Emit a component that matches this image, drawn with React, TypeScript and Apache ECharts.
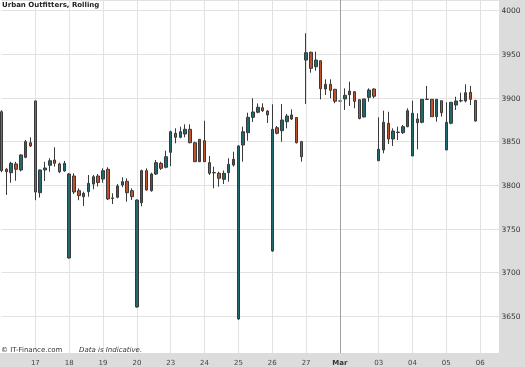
import React, { useEffect, useRef } from 'react';
import * as echarts from 'echarts';

const dayLabels = ['13', '17', '18', '19', '20', '23', '24', '25', '26', '27', 'Mar', '03', '04', '05', '06'];
const barsPerDay = [7, 7, 7, 7, 7, 7, 7, 7, 7, 7, 8, 7, 7, 7, 5];

const opens = [
  3884.3, 3818.4, 3814.5, 3824.5, 3817.6, 3832.1, 3848.8,
  3896.6, 3791.6, 3817.6, 3823.0, 3829.0, 3824.5, 3816.5,
  3716.8, 3810.7, 3793.9, 3787.0, 3792.7, 3801.5, 3810.7,
  3807.3, 3818.4, 3785.0, 3786.3, 3800.4, 3804.6, 3793.9,
  3660.7, 3780.1, 3816.8, 3793.9, 3813.0, 3825.2, 3820.7,
  3837.8, 3859.6, 3855.0, 3858.8, 3864.2, 3848.8, 3827.1,
  3851.1, 3826.0, 3814.3, 3813.8, 3806.9, 3814.5, 3823.3,
  3647.0, 3846.2, 3860.3, 3877.9, 3883.7, 3888.9, 3885.1,
  3724.8, 3866.0, 3862.6, 3872.9, 3876.0, 3877.7, 3850.0,
  3943.5, 3952.4, 3935.9, 3942.7, 3910.3, 3915.7, 3910.0,
  3896.6, 3898.9, 3903.8, 3907.2, 3898.1, 3878.3, 3900.8, 3910.3,
  3828.2, 3840.5, 3871.1, 3853.1, 3860.5, 3860.3, 3867.2,
  3833.6, 3876.0, 3872.2, 3898.3, 3898.5, 3878.6, 3896.9,
  3840.5, 3871.1, 3892.0, 3896.7, 3896.6, 3906.5, 3897.2,
];
const closes = [
  3816.8, 3815.6, 3825.2, 3818.4, 3834.8, 3850.0, 3845.1,
  3792.4, 3817.6, 3819.9, 3828.2, 3825.2, 3815.6, 3825.2,
  3813.0, 3792.4, 3788.2, 3790.9, 3802.3, 3809.9, 3803.3,
  3816.8, 3784.4, 3785.6, 3799.3, 3804.2, 3791.6, 3787.0,
  3783.2, 3816.8, 3794.7, 3813.0, 3826.0, 3819.5, 3832.8,
  3861.4, 3855.0, 3861.4, 3864.2, 3848.8, 3827.1, 3852.7,
  3827.1, 3813.8, 3814.7, 3808.1, 3813.8, 3824.1, 3829.8,
  3845.1, 3861.4, 3877.9, 3884.0, 3889.4, 3885.5, 3880.6,
  3864.2, 3859.6, 3874.8, 3879.4, 3880.6, 3848.8, 3832.8,
  3951.9, 3934.0, 3943.5, 3910.7, 3915.7, 3908.8, 3896.3,
  3896.6, 3903.1, 3908.0, 3896.3, 3876.6, 3898.9, 3909.2, 3902.0,
  3841.3, 3872.2, 3853.1, 3862.2, 3861.0, 3867.2, 3885.5,
  3882.5, 3871.8, 3898.5, 3898.7, 3878.6, 3898.5, 3883.2,
  3872.2, 3895.1, 3896.6, 3897.1, 3906.1, 3898.5, 3873.7,
];
const lows = [
  3815.0, 3789.0, 3803.0, 3805.3, 3816.0, 3831.0, 3844.0,
  3783.0, 3786.0, 3805.0, 3815.6, 3821.4, 3814.0, 3815.6,
  3716.0, 3790.0, 3783.0, 3776.4, 3787.0, 3795.5, 3798.7,
  3803.0, 3783.2, 3778.6, 3785.2, 3797.8, 3781.3, 3783.2,
  3660.0, 3776.0, 3794.0, 3792.7, 3811.8, 3817.6, 3819.5,
  3822.2, 3848.2, 3853.9, 3855.0, 3848.2, 3826.7, 3826.7,
  3826.7, 3811.9, 3796.6, 3798.5, 3801.5, 3804.2, 3821.4,
  3646.0, 3827.1, 3851.1, 3872.6, 3882.5, 3884.0, 3871.4,
  3724.0, 3858.5, 3850.0, 3865.3, 3874.8, 3848.0, 3827.1,
  3893.2, 3929.0, 3931.3, 3898.5, 3903.5, 3899.7, 3894.0,
  3896.4, 3886.3, 3890.9, 3888.2, 3875.6, 3878.0, 3895.8, 3899.7,
  3828.0, 3836.7, 3847.4, 3845.1, 3851.9, 3858.8, 3866.5,
  3833.6, 3841.3, 3871.0, 3897.7, 3878.6, 3872.9, 3878.6,
  3840.5, 3870.0, 3886.3, 3895.1, 3895.1, 3892.0, 3873.0,
];
const highs = [
  3886.0, 3820.0, 3827.1, 3827.0, 3835.5, 3852.0, 3855.0,
  3897.0, 3818.0, 3827.0, 3831.0, 3843.6, 3826.0, 3828.0,
  3814.0, 3813.8, 3796.6, 3792.7, 3811.8, 3812.0, 3813.0,
  3819.5, 3820.7, 3790.9, 3801.5, 3809.2, 3808.0, 3796.6,
  3784.0, 3818.0, 3819.5, 3814.5, 3829.0, 3827.0, 3839.7,
  3862.6, 3865.3, 3867.2, 3869.9, 3869.9, 3850.0, 3853.0,
  3874.0, 3833.6, 3821.4, 3815.6, 3817.0, 3831.0, 3838.5,
  3846.0, 3867.2, 3883.2, 3899.7, 3893.7, 3894.0, 3886.3,
  3892.8, 3868.0, 3893.2, 3881.7, 3887.0, 3878.0, 3851.0,
  3974.1, 3953.0, 3953.1, 3943.0, 3921.4, 3921.4, 3910.0,
  3896.8, 3911.1, 3918.7, 3908.0, 3898.5, 3899.0, 3911.1, 3911.1,
  3877.9, 3885.5, 3884.3, 3865.3, 3867.2, 3869.1, 3888.2,
  3896.9, 3882.5, 3898.5, 3913.8, 3898.5, 3898.5, 3896.9,
  3895.1, 3895.5, 3901.5, 3906.1, 3915.7, 3913.8, 3898.0,
];

const yMin = 3600;
const yMax = 4012.25;
const yStep = 50;

const categories: string[] = [];
dayLabels.forEach((d, di) => {
  for (let k = 0; k < barsPerDay[di]; k++) categories.push(`${d}#${k}`);
});
const isDayStart = (idx: number) => {
  const c = categories[idx];
  return !!c && c.endsWith('#0') && idx > 0;
};
const candleData = opens.map((o, i) => [o, closes[i], lows[i], highs[i]]);

export default function App() {
  const ref = useRef<HTMLDivElement>(null);
  useEffect(() => {
    if (!ref.current) return;
    const chart = echarts.init(ref.current, undefined, { renderer: 'svg' });
    const font = 'DejaVu Sans';
    chart.setOption({
      animation: false,
      title: {
        text: 'Urban Outfitters, Rolling',
        left: 2,
        top: 1,
        padding: 0,
        textStyle: { fontSize: 7, fontWeight: 'bold', color: '#222', fontFamily: font },
      },
      grid: { left: 1.5, top: 0, width: 498, height: 360, containLabel: false },
      xAxis: [
        {
          type: 'category',
          data: categories,
          boundaryGap: false,
          axisLine: { show: false },
          axisTick: { show: false },
          axisLabel: { show: false },
          splitLine: {
            show: true,
            interval: (i: number) => isDayStart(i),
            lineStyle: { color: '#e2e2e2', width: 1 },
          },
          z: 0,
        },
        {
          type: 'category',
          data: categories,
          boundaryGap: false,
          position: 'bottom',
          axisLine: { show: false },
          axisTick: { show: false },
          splitLine: { show: false },
          axisLabel: {
            interval: (i: number) => isDayStart(i),
            margin: -1,
            fontSize: 7,
            color: '#444',
            fontFamily: font,
            formatter: (v: string) => {
              const d = v.split('#')[0];
              return d === 'Mar' ? '{b|Mar}' : d;
            },
            rich: { b: { fontWeight: 'bold', fontSize: 7, color: '#333', fontFamily: font } },
          },
          z: 20,
        },
      ],
      yAxis: [
        {
          type: 'value',
          position: 'right',
          min: yMin,
          max: yMax,
          interval: yStep,
          axisLine: { show: false },
          axisTick: { show: false },
          axisLabel: { show: false },
          splitLine: { show: true, lineStyle: { color: '#e2e2e2', width: 1 } },
          z: 0,
        },
        {
          type: 'value',
          position: 'right',
          min: yMin,
          max: yMax,
          interval: yStep,
          axisLine: { show: false },
          axisTick: { show: false },
          splitLine: { show: false },
          axisLabel: {
            margin: 2,
            fontSize: 7.5,
            color: '#333',
            fontFamily: font,
            showMinLabel: false,
            showMaxLabel: false,
            formatter: (v: number) => (v >= 3650 && v <= 4000 && v % 50 === 0 ? String(v) : ''),
          },
          z: 20,
        },
      ],
      graphic: [
        { type: 'rect', shape: { x: 499, y: 0, width: 26, height: 367 }, style: { fill: '#dcdcdc' }, z: 10 },
        { type: 'rect', shape: { x: 0, y: 353, width: 525, height: 14 }, style: { fill: '#dcdcdc' }, z: 10 },
        {
          type: 'text', x: 1, y: 349.5, z: 30,
          style: { text: '© IT-Finance.com', fill: '#333', fontSize: 7, fontFamily: font, verticalAlign: 'middle' },
        },
        {
          type: 'text', x: 79, y: 349.5, z: 30,
          style: { text: 'Data is Indicative.', fill: '#333', fontSize: 7, fontStyle: 'italic', fontFamily: font, verticalAlign: 'middle' },
        },
      ],
      series: [
        {
          type: 'candlestick',
          xAxisIndex: 0,
          yAxisIndex: 0,
          data: candleData,
          barWidth: 3,
          itemStyle: {
            color: '#1f6a6c',
            color0: '#c0522b',
            borderColor: '#3a3a3a',
            borderColor0: '#3a3a3a',
            borderWidth: 1,
          },
          markLine: {
            silent: true,
            symbol: ['none', 'none'],
            label: { show: false },
            lineStyle: { color: '#a0a0a0', type: 'solid', width: 1 },
            data: [{ xAxis: categories[70] }],
          },
        },
      ],
    });
    return () => chart.dispose();
  }, []);
  return <div ref={ref} style={{ position: 'fixed', left: 0, top: 0, width: 525, height: 367 }} />;
}
